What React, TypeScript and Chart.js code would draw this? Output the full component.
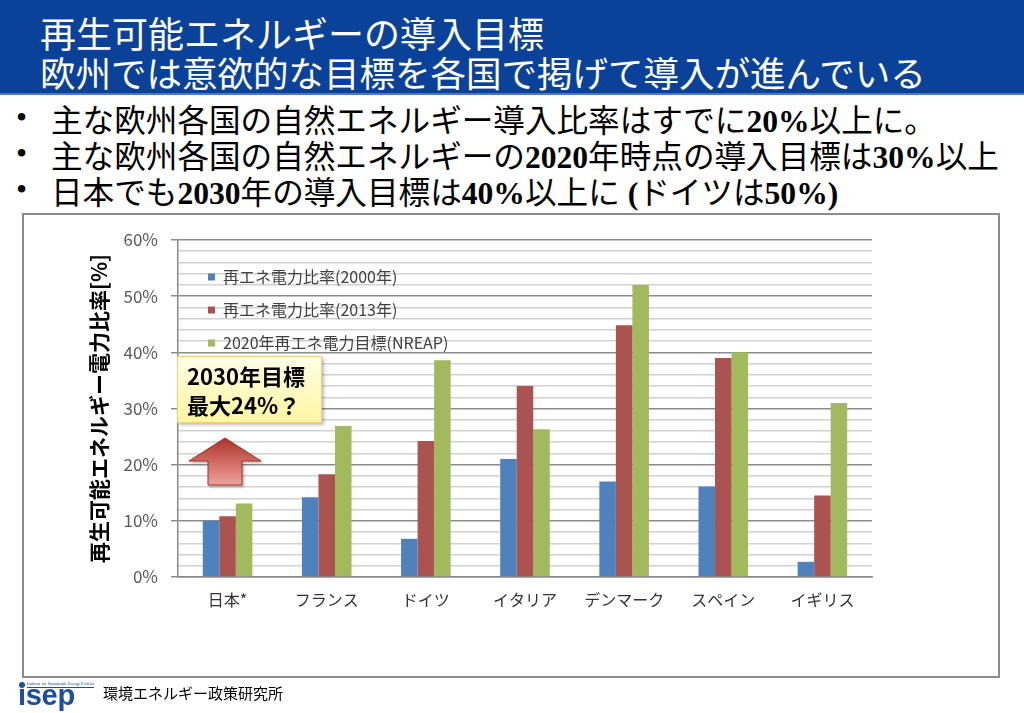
import React, { useEffect, useRef } from "react";
import { Chart, registerables } from "chart.js";

Chart.register(...registerables);

// ---- data ----
const categories = ["日本*", "フランス", "ドイツ", "イタリア", "デンマーク", "スペイン", "イギリス"];
const share2000 = [10.0, 14.2, 6.8, 21.0, 17.0, 16.1, 2.7];
const share2013 = [10.8, 18.3, 24.2, 34.0, 44.8, 39.0, 14.5];
const target2020 = [13.1, 26.9, 38.6, 26.3, 52.0, 40.0, 31.0];
const seriesLabels = ["再エネ電力比率(2000年)", "再エネ電力比率(2013年)", "2020年再エネ電力目標(NREAP)"];
const seriesColors = ["#4F81BD", "#AA5350", "#A2B95E"];
const yMin = 0;
const yMax = 60;
const yMinorStep = 2;
const yMajorStep = 10;
const yAxisTitle = "再生可能エネルギー電力比率[%]";

const JP = '"Noto Sans CJK JP", "Noto Sans", sans-serif';

const insideLegend = {
  id: "insideLegend",
  afterDraw(chart: any) {
    const { ctx, chartArea } = chart;
    ctx.save();
    ctx.font = `16px ${JP}`;
    ctx.textBaseline = "middle";
    ctx.textAlign = "left";
    chart.data.datasets.forEach((ds: any, i: number) => {
      const y = chartArea.top + 37 + i * 33;
      const x = chartArea.left + 30;
      ctx.fillStyle = ds.backgroundColor;
      ctx.fillRect(x, y - 3.5, 7, 7);
      ctx.fillStyle = "#404040";
      ctx.fillText(ds.label, x + 15, y);
    });
    ctx.restore();
  },
};

const num = { fontFamily: '"Liberation Serif", serif', fontWeight: 700 };

export default function App() {
  const ref = useRef<HTMLCanvasElement>(null);

  useEffect(() => {
    const chart = new Chart(ref.current as HTMLCanvasElement, {
      type: "bar",
      data: {
        labels: categories,
        datasets: [share2000, share2013, target2020].map((d, i) => ({
          label: seriesLabels[i],
          data: d,
          backgroundColor: seriesColors[i],
          borderWidth: 0,
          categoryPercentage: 0.5,
          barPercentage: 1.0,
        })),
      },
      options: {
        animation: false,
        responsive: false,
        maintainAspectRatio: false,
        layout: { padding: { left: 82, top: 240, right: 152, bottom: 96 } },
        plugins: { legend: { display: false }, tooltip: { enabled: false } },
        scales: {
          x: {
            offset: true,
            grid: { display: false, drawTicks: false },
            border: { display: true, color: "#8A8A8A", width: 1.5 },
            ticks: { color: "#333333", font: { family: JP, size: 16 }, padding: 13, maxRotation: 0 },
            afterFit: (s: any) => { s.height = 40; },
          },
          y: {
            min: yMin,
            max: yMax,
            ticks: {
              stepSize: yMinorStep,
              autoSkip: false,
              color: "#595959",
              font: { family: JP, size: 17 },
              padding: 13,
              callback: (v: any) => (Number(v) % yMajorStep === 0 ? `${v}%` : ""),
            },
            grid: {
              color: (c: any) => (c.tick && c.tick.value % yMajorStep === 0 ? "#8C8C8C" : "#D2D2D2"),
              tickColor: (c: any) => (c.tick && c.tick.value % yMajorStep === 0 ? "#8C8C8C" : "rgba(0,0,0,0)"),
              lineWidth: 1.5,
              tickLength: 7,
            },
            border: { display: true, color: "#8A8A8A", width: 1.5 },
            title: {
              display: true,
              text: yAxisTitle,
              color: "#000000",
              font: { family: JP, size: 21, weight: "bold" },
              padding: { top: 4, bottom: 4 },
            },
            afterFit: (s: any) => { s.width = 96; },
          },
        },
      },
      plugins: [insideLegend],
    } as any);
    return () => chart.destroy();
  }, []);

  return (
    <div
      style={{
        position: "fixed",
        left: 0,
        top: 0,
        width: 1024,
        height: 713,
        background: "#ffffff",
        overflow: "hidden",
        fontFamily: JP,
      }}
    >
      {/* header */}
      <div
        style={{
          position: "absolute",
          left: 0,
          top: 0,
          width: 1024,
          height: 93,
          background: "#0A429A",
          borderBottom: "2px solid #4B7BC6",
        }}
      />
      <div style={{ position: "absolute", left: 40, top: 12, color: "#fff", fontSize: 36, lineHeight: "40px", whiteSpace: "nowrap" }}>
        再生可能エネルギーの導入目標
      </div>
      <div style={{ position: "absolute", left: 40, top: 52, color: "#fff", fontSize: 35.5, lineHeight: "40px", whiteSpace: "nowrap" }}>
        欧州では意欲的な目標を各国で掲げて導入が進んでいる
      </div>

      {/* bullets */}
      {[
        <>主な欧州各国の自然エネルギー導入比率はすでに<span style={num}>20%</span>以上に。</>,
        <>主な欧州各国の自然エネルギーの<span style={num}>2020</span>年時点の導入目標は<span style={num}>30%</span>以上</>,
        <>日本でも<span style={num}>2030</span>年の導入目標は<span style={num}>40%</span>以上に<span style={num}> (</span>ドイツは<span style={num}>50%)</span></>,
      ].map((t, i) => (
        <div key={i} style={{ position: "absolute", left: 0, top: 100 + i * 36, height: 36, lineHeight: "36px", fontSize: 31.6, color: "#000", whiteSpace: "nowrap" }}>
          <span style={{ position: "absolute", left: 16, fontFamily: '"Liberation Serif", serif' }}>•</span>
          <span style={{ position: "absolute", left: 51 }}>{t}</span>
        </div>
      ))}

      {/* chart frame */}
      <div
        style={{
          position: "absolute",
          left: 22,
          top: 213,
          width: 978,
          height: 465,
          boxSizing: "border-box",
          border: "2px solid #8C8C8C",
        }}
      />

      <canvas ref={ref} width={1024} height={713} style={{ position: "absolute", left: 0, top: 0, width: 1024, height: 713 }} />

      {/* callout */}
      <div
        style={{
          position: "absolute",
          left: 177,
          top: 356,
          width: 145,
          height: 67,
          boxSizing: "border-box",
          border: "1.5px solid #F2D06E",
          background: "linear-gradient(#FFFEE8, #FFF6A0)",
          boxShadow: "2px 2px 3px rgba(0,0,0,0.25)",
          padding: "4px 0 0 9px",
          fontSize: 22,
          fontWeight: 700,
          lineHeight: "29px",
          color: "#000",
          whiteSpace: "nowrap",
        }}
      >
        <div>2030年目標</div>
        <div>最大24%？</div>
      </div>

      {/* arrow */}
      <svg style={{ position: "absolute", left: 0, top: 0 }} width={1024} height={713}>
        <defs>
          <linearGradient id="arrowGrad" x1="0" y1="0" x2="0" y2="1">
            <stop offset="0" stopColor="#A8332A" />
            <stop offset="0.5" stopColor="#CF6A62" />
            <stop offset="1" stopColor="#F0A29C" />
          </linearGradient>
          <filter id="sh" x="-20%" y="-20%" width="140%" height="140%">
            <feDropShadow dx="1.5" dy="1.5" stdDeviation="1.2" floodColor="#000" floodOpacity="0.3" />
          </filter>
        </defs>
        <polygon
          points="225,438 261,461 242,461 242,485 208,485 208,461 189,461"
          fill="url(#arrowGrad)"
          stroke="#9C3028"
          strokeWidth={1}
          filter="url(#sh)"
        />
      </svg>

      {/* footer */}
      <div style={{ position: "absolute", left: 19, top: 682, width: 6, height: 6, borderRadius: "50%", background: "#1C4DA1" }} />
      <div style={{ position: "absolute", left: 27, top: 681, fontSize: 4.2, lineHeight: "6px", color: "#1C4DA1", fontFamily: '"Liberation Serif", serif', whiteSpace: "nowrap", borderBottom: "1px solid #1C4DA1" }}>
        Institute for Sustainable Energy Policies
      </div>
      <div style={{ position: "absolute", left: 18, top: 680, fontSize: 29, lineHeight: "30px", fontWeight: 700, color: "#1C4DA1", fontFamily: '"Liberation Sans", Arial, sans-serif', letterSpacing: -0.3 }}>
        isep
      </div>
      <div style={{ position: "absolute", left: 103, top: 684, fontSize: 15, lineHeight: "18px", color: "#000", whiteSpace: "nowrap" }}>
        環境エネルギー政策研究所
      </div>
    </div>
  );
}
